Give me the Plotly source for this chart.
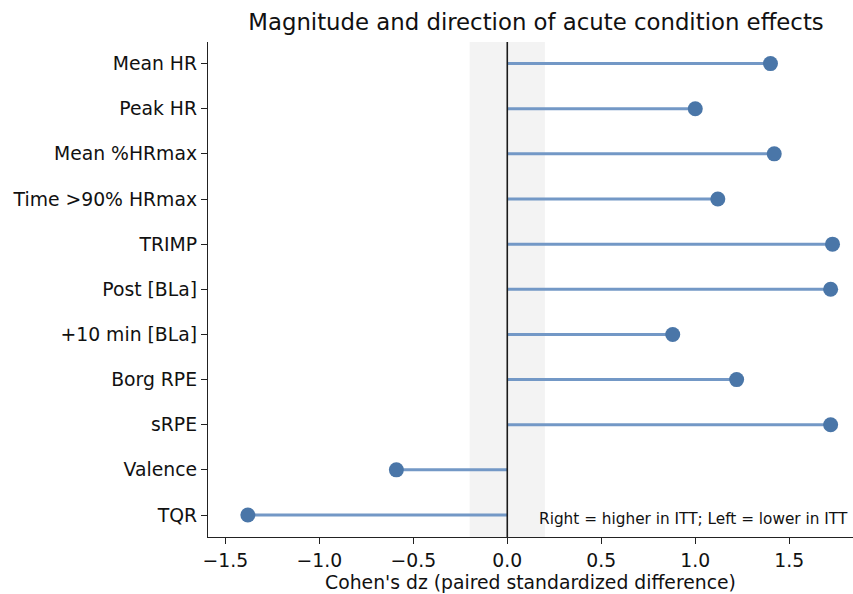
import plotly.graph_objects as go

categories = ["Mean HR", "Peak HR", "Mean %HRmax", "Time >90% HRmax", "TRIMP",
              "Post [BLa]", "+10 min [BLa]", "Borg RPE", "sRPE", "Valence", "TQR"]
effects = [1.40, 1.00, 1.42, 1.12, 1.73, 1.72, 0.88, 1.22, 1.72, -0.59, -1.38]
xticks = [-1.5, -1.0, -0.5, 0.0, 0.5, 1.0, 1.5]
xticklabels = ["\u22121.5", "\u22121.0", "\u22120.5", "0.0", "0.5", "1.0", "1.5"]
trivial_band = [-0.2, 0.2]

ypos = list(range(len(categories)))

stem_x, stem_y = [], []
for y, v in zip(ypos, effects):
    stem_x += [0, v, None]
    stem_y += [y, y, None]

FONT = "DejaVu Sans"
TICK = 18.8
fig = go.Figure()
fig.add_shape(type="rect", xref="x", yref="paper", x0=trivial_band[0], x1=trivial_band[1],
              y0=0, y1=1, fillcolor="#f3f3f3", line_width=0, layer="below")
fig.add_trace(go.Scatter(x=stem_x, y=stem_y, mode="lines",
                         line=dict(color="#7398c6", width=3), hoverinfo="skip",
                         showlegend=False))
fig.add_shape(type="line", xref="x", yref="paper", x0=0, x1=0, y0=0, y1=1,
              line=dict(color="#1a1a1a", width=1.6), layer="above")
fig.add_trace(go.Scatter(x=effects, y=ypos, mode="markers",
                         marker=dict(color="#4a76a8", size=15, line_width=0),
                         showlegend=False))

fig.add_annotation(text="Right = higher in ITT; Left = lower in ITT", xref="paper", yref="paper",
                   x=0.996, y=0.037, xanchor="right", yanchor="middle", showarrow=False,
                   font=dict(family=FONT, size=15.3, color="#111111"))

fig.update_layout(
    width=853, height=594, autosize=False,
    margin=dict(l=208, r=0, t=42, b=57),
    plot_bgcolor="white", paper_bgcolor="white",
    font=dict(family=FONT, size=TICK, color="#111111"),
    title=dict(text="Magnitude and direction of acute condition effects",
               x=536/853, xref="container", xanchor="center",
               y=1 - 22/594, yref="container", yanchor="middle",
               font=dict(family=FONT, size=22.8, color="#111111")),
    xaxis=dict(range=[-1.592, 1.839], tickvals=xticks, ticktext=xticklabels,
               showgrid=False, zeroline=False, showline=True, linecolor="#222222", linewidth=1.4,
               ticks="outside", ticklen=6, tickwidth=1.4, tickcolor="#222222",
               title=dict(text="Cohen's dz (paired standardized difference)",
                          font=dict(family=FONT, size=TICK), standoff=6),
               tickfont=dict(family=FONT, size=TICK)),
    yaxis=dict(range=[10.487, -0.478], tickvals=ypos, ticktext=categories,
               showgrid=False, zeroline=False, showline=True, linecolor="#222222", linewidth=1.4,
               ticks="outside", ticklen=6, tickwidth=1.4, tickcolor="#222222",
               tickfont=dict(family=FONT, size=TICK)),
)
fig.write_html("out.html")
